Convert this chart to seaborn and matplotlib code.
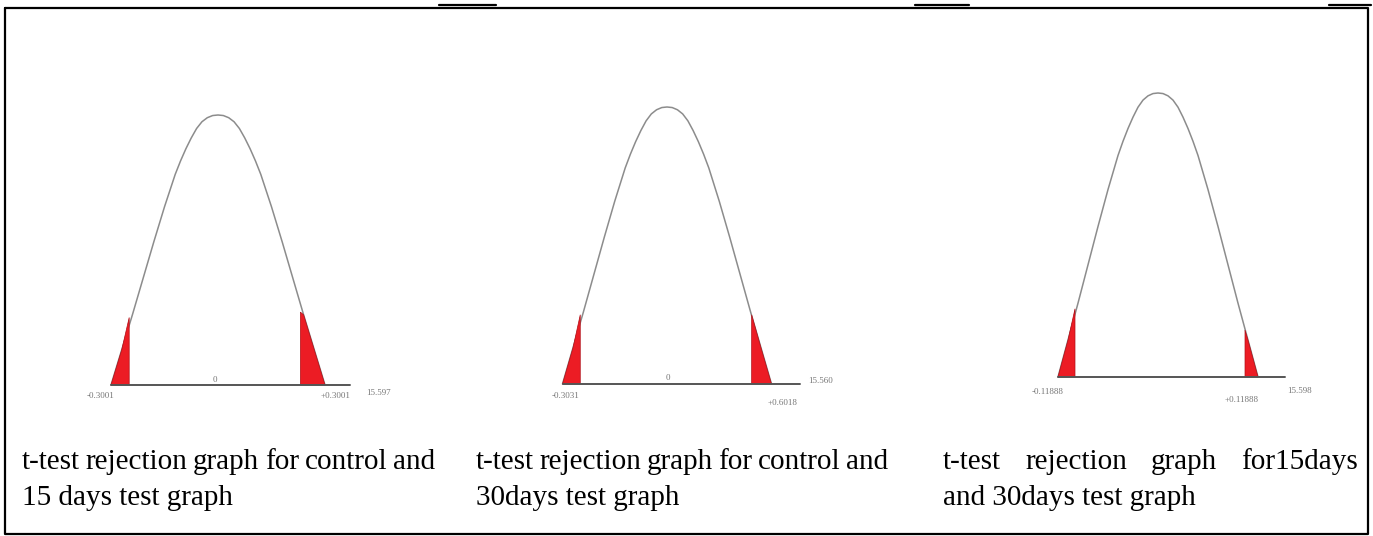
"""t-test rejection graphs, three panels with captions -> out.png"""
import numpy as np
import pandas as pd
import matplotlib
matplotlib.use("Agg")
import matplotlib.pyplot as plt
import seaborn as sns

sns.set_theme(style="white")
plt.rcParams["font.family"] = ["Liberation Serif", "DejaVu Serif"]

# ── data ──────────────────────────────────────────────────────────────────────
# shape of the bell curve (u = relative t, h = relative density)
U = [-1.0, -0.9, -0.8, -0.7, -0.6, -0.5, -0.45, -0.4, -0.35, -0.3, -0.25, -0.2, -0.15,
     -0.1, -0.05, 0.0,
     0.05, 0.1, 0.15, 0.2, 0.25, 0.3, 0.35, 0.4, 0.45, 0.5, 0.6, 0.7, 0.8, 0.9, 1.0]
H = [0.0, 0.13, 0.26, 0.395, 0.53, 0.66, 0.72, 0.78, 0.83, 0.875, 0.915, 0.95, 0.975,
     0.99, 0.998, 1.0,
     0.998, 0.99, 0.975, 0.95, 0.915, 0.875, 0.83, 0.78, 0.72, 0.66, 0.53, 0.395, 0.26,
     0.13, 0.0]

# rejection-region cut points (u, height) per panel
LEFT_CUT  = [(-0.83, 0.25), (-0.83, 0.25), (-0.83, 0.24)]
RIGHT_CUT = [(0.77, 0.27), (0.81, 0.25), (0.87, 0.165)]
AXIS_END  = [1.23, 1.27, 1.27]

LOW_LABELS  = ["-0.3001", "-0.3031", "-0.11888"]
HIGH_LABELS = ["+0.3001", "+0.6018", "+0.11888"]
END_LABELS  = ["15.597", "15.560", "15.598"]
ZERO_LABELS = ["0", "0", ""]

CAPTIONS = [
    ["t-test rejection graph for control and", "15 days test graph"],
    ["t-test rejection graph for control and", "30days test graph"],
    ["t-test rejection graph for15days", "and 30days test graph"],
]

# ── layout (pixels) ───────────────────────────────────────────────────────────
W, HGT = 1373, 536
# center x, half width, baseline y, peak y
PANELS = [(218, 107, 385, 115), (667, 104.5, 384, 107), (1158, 100, 377, 93)]
LABEL_POS = [
    dict(low=(-1.10, -0.04), high=(1.10, -0.04), end=(1.50, -0.03), zero=(-0.03, 0.02)),
    dict(low=(-0.97, -0.043), high=(1.11, -0.07), end=(1.47, 0.01), zero=(0.01, 0.02)),
    dict(low=(-1.10, -0.053), high=(0.84, -0.08), end=(1.42, -0.05), zero=(0.0, 0.02)),
]
CAP_X = [(22, 435), (476, 888), (943, 1358)]
CAP_Y = [462, 498]
CAP_SIZE = 21

RED = "#ec1c24"

fig = plt.figure(figsize=(W / 100, HGT / 100), dpi=100)
shape = pd.DataFrame({"u": U, "h": H})

for i, (cx, hw, by, py) in enumerate(PANELS):
    ht = by - py
    xl, xr = -1.6, 1.7
    yb, yt = -0.15, 1.05
    left = (cx + xl * hw) / W
    width = (xr - xl) * hw / W
    bottom = 1 - (by - yb * ht) / HGT
    height = (yt - yb) * ht / HGT
    ax = fig.add_axes([left, bottom, width, height])
    ax.set_xlim(xl, xr); ax.set_ylim(yb, yt)
    ax.axis("off")

    sns.lineplot(data=shape, x="u", y="h", ax=ax, color="#8c8c8c", lw=1.1,
                 sort=False, estimator=None)

    # rejection regions
    lc, lh = LEFT_CUT[i]
    pts = [(u, h) for u, h in zip(U, H) if u < lc]
    poly = pts + [(lc, lh), (lc, 0.0)]
    ax.fill([p[0] for p in poly], [p[1] for p in poly], color=RED,
            ec="#b01018", lw=0.5, zorder=3)
    rc, rh = RIGHT_CUT[i]
    pts = [(u, h) for u, h in zip(U, H) if u > rc]
    poly = [(rc, 0.0), (rc, rh)] + pts
    ax.fill([p[0] for p in poly], [p[1] for p in poly], color=RED,
            ec="#b01018", lw=0.5, zorder=3)

    ax.plot([-1.0, AXIS_END[i]], [0, 0], color="#555555", lw=1.4, zorder=4)

    lp = LABEL_POS[i]
    kw = dict(ha="center", va="center", fontsize=6.5, color="#777777")
    ax.text(*lp["low"], LOW_LABELS[i], **kw)
    ax.text(*lp["high"], HIGH_LABELS[i], **kw)
    ax.text(*lp["end"], END_LABELS[i], **kw)
    if ZERO_LABELS[i]:
        ax.text(*lp["zero"], ZERO_LABELS[i], **kw)

# ── captions (first line justified) ───────────────────────────────────────────
renderer = fig.canvas.get_renderer()
for (x0, x1), lines in zip(CAP_X, CAPTIONS):
    for j, line in enumerate(lines):
        y = 1 - CAP_Y[j] / HGT
        if j == 0:
            words = line.split()
            texts = [fig.text(0, y, w, fontsize=CAP_SIZE, va="center", color="black")
                     for w in words]
            widths = [t.get_window_extent(renderer).width for t in texts]
            gap = ((x1 - x0) - sum(widths)) / (len(words) - 1)
            x = x0
            for t, wd in zip(texts, widths):
                t.set_x(x / W)
                x += wd + gap
        else:
            fig.text(x0 / W, y, line, fontsize=CAP_SIZE, va="center", color="black")

# ── table border ──────────────────────────────────────────────────────────────
bx = fig.add_axes([0, 0, 1, 1], zorder=-1)
bx.set_xlim(0, W); bx.set_ylim(HGT, 0); bx.axis("off")
bx.plot([5, 1368, 1368, 5, 5], [8, 8, 534, 534, 8], color="black", lw=1.6)
for a, b in [(439, 496), (915, 969), (1329, 1371)]:
    bx.plot([a, b], [5, 5], color="black", lw=1.6)

fig.savefig("out.png", dpi=100)
